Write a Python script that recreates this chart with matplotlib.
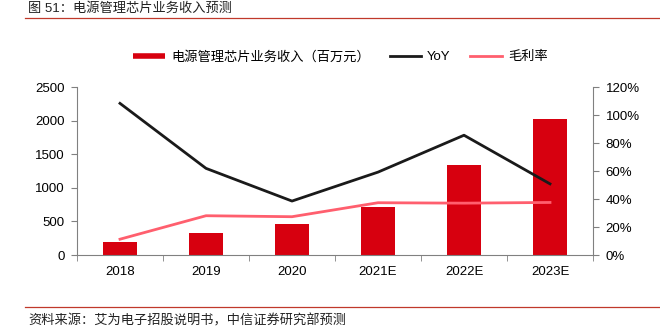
import numpy as np
import matplotlib
matplotlib.use("Agg")
import matplotlib.pyplot as plt
import matplotlib.ticker as ticker
from matplotlib.lines import Line2D

plt.rcParams["font.family"] = ["Liberation Sans", "Noto Sans CJK SC", "DejaVu Sans"]

# ── Data ───────────────────────────────────────────────────────────────────
years = ["2018", "2019", "2020", "2021E", "2022E", "2023E"]
revenue = [200, 330, 455, 723, 1343, 2030]          # 百万元
yoy = [108.5, 62.0, 38.6, 59.3, 85.7, 50.9]          # %
gross_margin = [11.3, 28.1, 27.4, 37.4, 37.1, 37.6]  # %

BAR_RED = "#D7000F"
PINK = "#FF5F6E"
BLACK = "#1A1A1A"
GRAY = "#808080"

fig = plt.figure(figsize=(6.6, 3.3), dpi=100)
ax = fig.add_axes([77 / 660, 1 - 255 / 330, (593 - 77) / 660, (255 - 87.3) / 330])
ax2 = ax.twinx()

x = np.arange(len(years))
ax.bar(x, revenue, width=0.4, color=BAR_RED, zorder=2)
ax2.plot(x, yoy, color=BLACK, linewidth=2, zorder=3)
ax2.plot(x, gross_margin, color=PINK, linewidth=2, zorder=3)

ax.set_xlim(-0.5, len(years) - 0.5)
ax.set_ylim(0, 2500)
ax2.set_ylim(0, 120)
ax.yaxis.set_major_locator(ticker.MultipleLocator(500))
ax2.yaxis.set_major_locator(ticker.MultipleLocator(20))
ax2.yaxis.set_major_formatter(ticker.FuncFormatter(lambda v, p: f"{v:.0f}%"))

ax.set_xticks(x)
ax.set_xticklabels(years)
ax.set_xticks(np.arange(-0.5, len(years)), minor=True)
ax.tick_params(axis="x", which="major", length=0, pad=8)
ax.tick_params(axis="x", which="minor", length=4, color=GRAY, direction="out")

for a in (ax, ax2):
    for s in a.spines.values():
        s.set_visible(False)
    a.tick_params(axis="y", length=4, color=GRAY, labelsize=9.5, pad=5)
    a.tick_params(axis="x", labelsize=9.5)
ax.spines["left"].set_visible(True)
ax.spines["bottom"].set_visible(True)
ax2.spines["right"].set_visible(True)
for s in (ax.spines["left"], ax.spines["bottom"], ax2.spines["right"]):
    s.set_color(GRAY)
    s.set_linewidth(0.8)

# Legend
handles = [
    Line2D([], [], color=BAR_RED, linewidth=4, solid_capstyle="butt",
           label="电源管理芯片业务收入（百万元）"),
    Line2D([], [], color=BLACK, linewidth=2, label="YoY"),
    Line2D([], [], color=PINK, linewidth=2, label="毛利率"),
]
fig.legend(handles=handles, loc="center", bbox_to_anchor=(0.516, 1 - 57 / 330),
           ncol=3, frameon=False, fontsize=9.5, handlelength=2.4,
           columnspacing=1.5, handletextpad=0.45)

# Header / footer
fig.text(28 / 660, 1 - 9 / 330, "图 51：电源管理芯片业务收入预测",
         fontsize=9.5, va="center", ha="left", color="#222222")
fig.add_artist(Line2D([25 / 660, 1], [1 - 17.5 / 330] * 2, color="#C0392B", linewidth=0.9))
fig.add_artist(Line2D([25 / 660, 1], [1 - 306.5 / 330] * 2, color="#C0392B", linewidth=0.9))
fig.text(28 / 660, 1 - 321 / 330, "资料来源：艾为电子招股说明书，中信证券研究部预测",
         fontsize=9.5, va="center", ha="left", color="#222222")

fig.savefig("out.png", dpi=100)
